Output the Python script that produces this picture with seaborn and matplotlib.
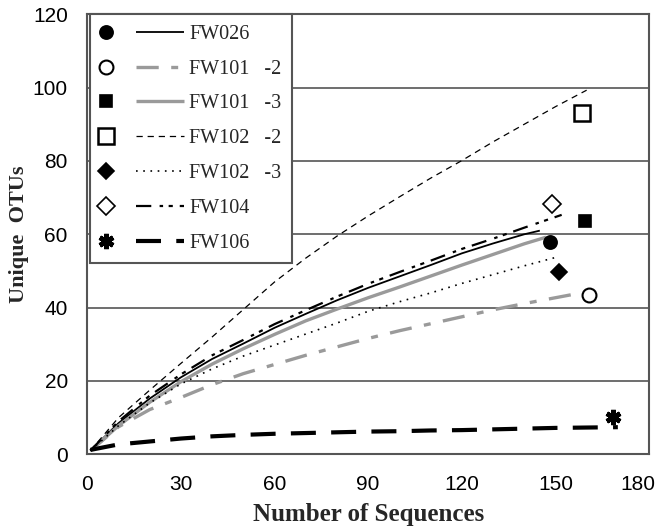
import matplotlib
matplotlib.use("Agg")
import matplotlib.pyplot as plt
import matplotlib.transforms as mtransforms
import seaborn as sns
from matplotlib.lines import Line2D
from matplotlib.legend_handler import HandlerBase

# ---------------- data ----------------
samples = ["FW026", "FW101-2", "FW101-3", "FW102-2", "FW102-3", "FW104", "FW106"]
legend_labels = ["FW026", "FW101   -2", "FW101   -3", "FW102   -2",
                 "FW102   -3", "FW104", "FW106"]

x_fw026 = [1, 10, 20, 30, 40, 50, 60, 70, 80, 90, 100, 110, 120, 130, 140, 145]
y_fw026 = [1, 8.5, 15.2, 21.0, 26.0, 30.2, 34.5, 38.3, 42.0, 45.4, 48.5, 51.6, 54.8, 57.5, 60.0, 61.0]

x_fw101_2 = [1, 10, 20, 30, 40, 50, 60, 70, 80, 90, 100, 110, 120, 130, 140, 150, 155]
y_fw101_2 = [1, 7.5, 12.2, 15.5, 19.0, 22.0, 24.5, 27.0, 29.3, 31.6, 33.7, 35.6, 37.5, 39.4, 41.1, 42.7, 43.5]

x_fw101_3 = [1, 10, 20, 30, 40, 50, 60, 70, 80, 90, 100, 110, 120, 130, 140, 147]
y_fw101_3 = [1, 7.8, 14.2, 19.8, 24.6, 28.8, 32.7, 36.4, 39.6, 42.7, 45.6, 48.6, 51.6, 54.5, 57.4, 59.2]

x_fw102_2 = [1, 10, 20, 30, 40, 50, 60, 70, 80, 90, 100, 110, 120, 130, 140, 150, 160]
y_fw102_2 = [1, 10.0, 17.5, 24.8, 32.0, 39.5, 47.0, 53.5, 59.5, 65.0, 70.2, 75.3, 80.1, 85.2, 90.0, 94.8, 99.3]

x_fw102_3 = [1, 10, 20, 30, 40, 50, 60, 70, 80, 90, 100, 110, 120, 130, 140, 151]
y_fw102_3 = [1, 7.8, 14.0, 19.2, 23.3, 26.8, 29.8, 32.8, 35.8, 39.0, 41.6, 44.0, 46.6, 49.0, 51.4, 53.9]

x_fw104 = [1, 10, 20, 30, 40, 50, 60, 70, 80, 90, 100, 110, 120, 130, 140, 152]
y_fw104 = [1, 9.0, 16.0, 21.8, 27.0, 31.2, 35.5, 39.3, 43.0, 46.5, 49.7, 52.8, 56.0, 58.8, 61.8, 65.3]

x_fw106 = [1, 10, 20, 30, 40, 50, 60, 70, 80, 90, 100, 110, 120, 130, 140, 150, 160, 170]
y_fw106 = [1.2, 2.7, 3.5, 4.3, 4.9, 5.3, 5.6, 5.8, 6.0, 6.2, 6.3, 6.5, 6.6, 6.8, 7.0, 7.2, 7.3, 7.4]

# end-of-curve symbols
marker_x = [148.2, 160.9, 159.5, 158.5, 151.2, 149.0, 168.4]
marker_y = [58.0, 43.4, 63.7, 93.2, 49.7, 68.2, 10.3]

x_ticks = [0, 30, 60, 90, 120, 150, 180]
y_ticks = [0, 20, 40, 60, 80, 100, 120]

curves = {
    "FW026": (x_fw026, y_fw026),
    "FW101-2": (x_fw101_2, y_fw101_2),
    "FW101-3": (x_fw101_3, y_fw101_3),
    "FW102-2": (x_fw102_2, y_fw102_2),
    "FW102-3": (x_fw102_3, y_fw102_3),
    "FW104": (x_fw104, y_fw104),
    "FW106": (x_fw106, y_fw106),
}

GRAY = "#9a9a9a"
line_styles = {
    "FW026": dict(color="black", linewidth=1.3, linestyle="-"),
    "FW101-2": dict(color=GRAY, linewidth=2.4, linestyle=(0, (16, 9, 5, 9))),
    "FW101-3": dict(color=GRAY, linewidth=2.4, linestyle="-"),
    "FW102-2": dict(color="black", linewidth=0.9, linestyle=(0, (4.5, 3.5))),
    "FW102-3": dict(color="black", linewidth=1.2, linestyle=(0, (1.2, 4))),
    "FW104": dict(color="black", linewidth=1.6, linestyle=(0, (11, 6, 2.5, 4, 3, 5))),
    "FW106": dict(color="black", linewidth=3.0, linestyle=(0, (18, 11))),
}
marker_styles = {
    "FW026": dict(marker="o", ms=9.5, mfc="black", mec="black", mew=1.2),
    "FW101-2": dict(marker="o", ms=10, mfc="white", mec="black", mew=1.5),
    "FW101-3": dict(marker="s", ms=9, mfc="black", mec="black", mew=1.2),
    "FW102-2": dict(marker="s", ms=11.5, mfc="white", mec="black", mew=1.8),
    "FW102-3": dict(marker="D", ms=8.5, mfc="black", mec="black", mew=1.2),
    "FW104": dict(marker="D", ms=9, mfc="white", mec="black", mew=1.2),
    "FW106": dict(marker=(6, 2, 0), ms=11, mfc="black", mec="black", mew=3.4),
}

# ---------------- style ----------------
sns.set_theme(style="white")
plt.rcParams["font.family"] = ["Liberation Sans", "DejaVu Sans"]
plt.rcParams["lines.scale_dashes"] = False
plt.rcParams["lines.solid_capstyle"] = "butt"
plt.rcParams["lines.dash_capstyle"] = "butt"

fig = plt.figure(figsize=(6.57, 5.29), dpi=100)
ax = fig.add_axes([0.1329, 0.1412, 0.855, 0.8318])

handles = []
for name in samples:
    xs, ys = curves[name]
    sns.lineplot(x=xs, y=ys, ax=ax, sort=False, estimator=None,
                 errorbar=None, **line_styles[name])
    ln = ax.lines[-1]
    i = samples.index(name)
    mk, = ax.plot([marker_x[i]], [marker_y[i]], linestyle="none",
                  clip_on=False, zorder=5, **marker_styles[name])
    handles.append((mk, ln))

ax.set_xlim(0, 180)
ax.set_ylim(0, 120)
ax.set_xticks(x_ticks)
ax.set_yticks(y_ticks)
ax.tick_params(axis="both", direction="out", length=6.5, width=1.2,
               color="#444444", labelsize=15, labelcolor="black")
ax.tick_params(axis="y", pad=7.5)
ax.tick_params(axis="x", pad=8.5)
for lab in ax.get_xticklabels() + ax.get_yticklabels():
    lab.set_fontfamily(["Liberation Sans", "DejaVu Sans"])

ax.yaxis.grid(True, color="#555555", linewidth=1.2)
ax.xaxis.grid(False)
ax.set_axisbelow(True)
for side, sp in ax.spines.items():
    sp.set_visible(True)
    sp.set_color("#555555")
    sp.set_linewidth(1.5)

ax.set_xlabel("Number of Sequences", fontsize=18, fontweight="bold",
              family=["Liberation Serif", "DejaVu Serif"], labelpad=6.5)
ax.set_ylabel("Unique  OTUs", fontsize=16, fontweight="bold",
              family=["Liberation Serif", "DejaVu Serif"], labelpad=3)

# the last x tick label sits a little to the left, as in the reference
last_lab = ax.xaxis.get_major_ticks()[-1].label1
last_lab.set_transform(last_lab.get_transform() +
                       mtransforms.ScaledTranslation(-0.115, 0, fig.dpi_scale_trans))


class MarkerLineHandler(HandlerBase):
    def create_artists(self, legend, orig_handle, xdescent, ydescent,
                       width, height, fontsize, trans):
        mk, ln = orig_handle
        y = height / 2.0 - ydescent
        x0 = -xdescent
        m = Line2D([x0 + 0.065 * width], [y])
        m.update_from(mk)
        m.set_linestyle("none")
        m.set_transform(trans)
        l = Line2D([x0 + 0.42 * width, x0 + width], [y, y])
        l.update_from(ln)
        l.set_marker("none")
        l.set_transform(trans)
        return [m, l]


leg = ax.legend(handles, legend_labels, handler_map={tuple: MarkerLineHandler()},
                loc="upper left", bbox_to_anchor=(0.005, 1.0), borderaxespad=0,
                prop={"family": ["Liberation Serif", "DejaVu Serif"], "size": 14.5},
                handlelength=4.15, handletextpad=0.25, labelspacing=0.78,
                borderpad=0.52, fancybox=False, framealpha=1, frameon=True)
leg.get_frame().set_edgecolor("#555555")
leg.get_frame().set_linewidth(1.5)
leg.set_zorder(10)

fig.savefig("out.png", dpi=100)
